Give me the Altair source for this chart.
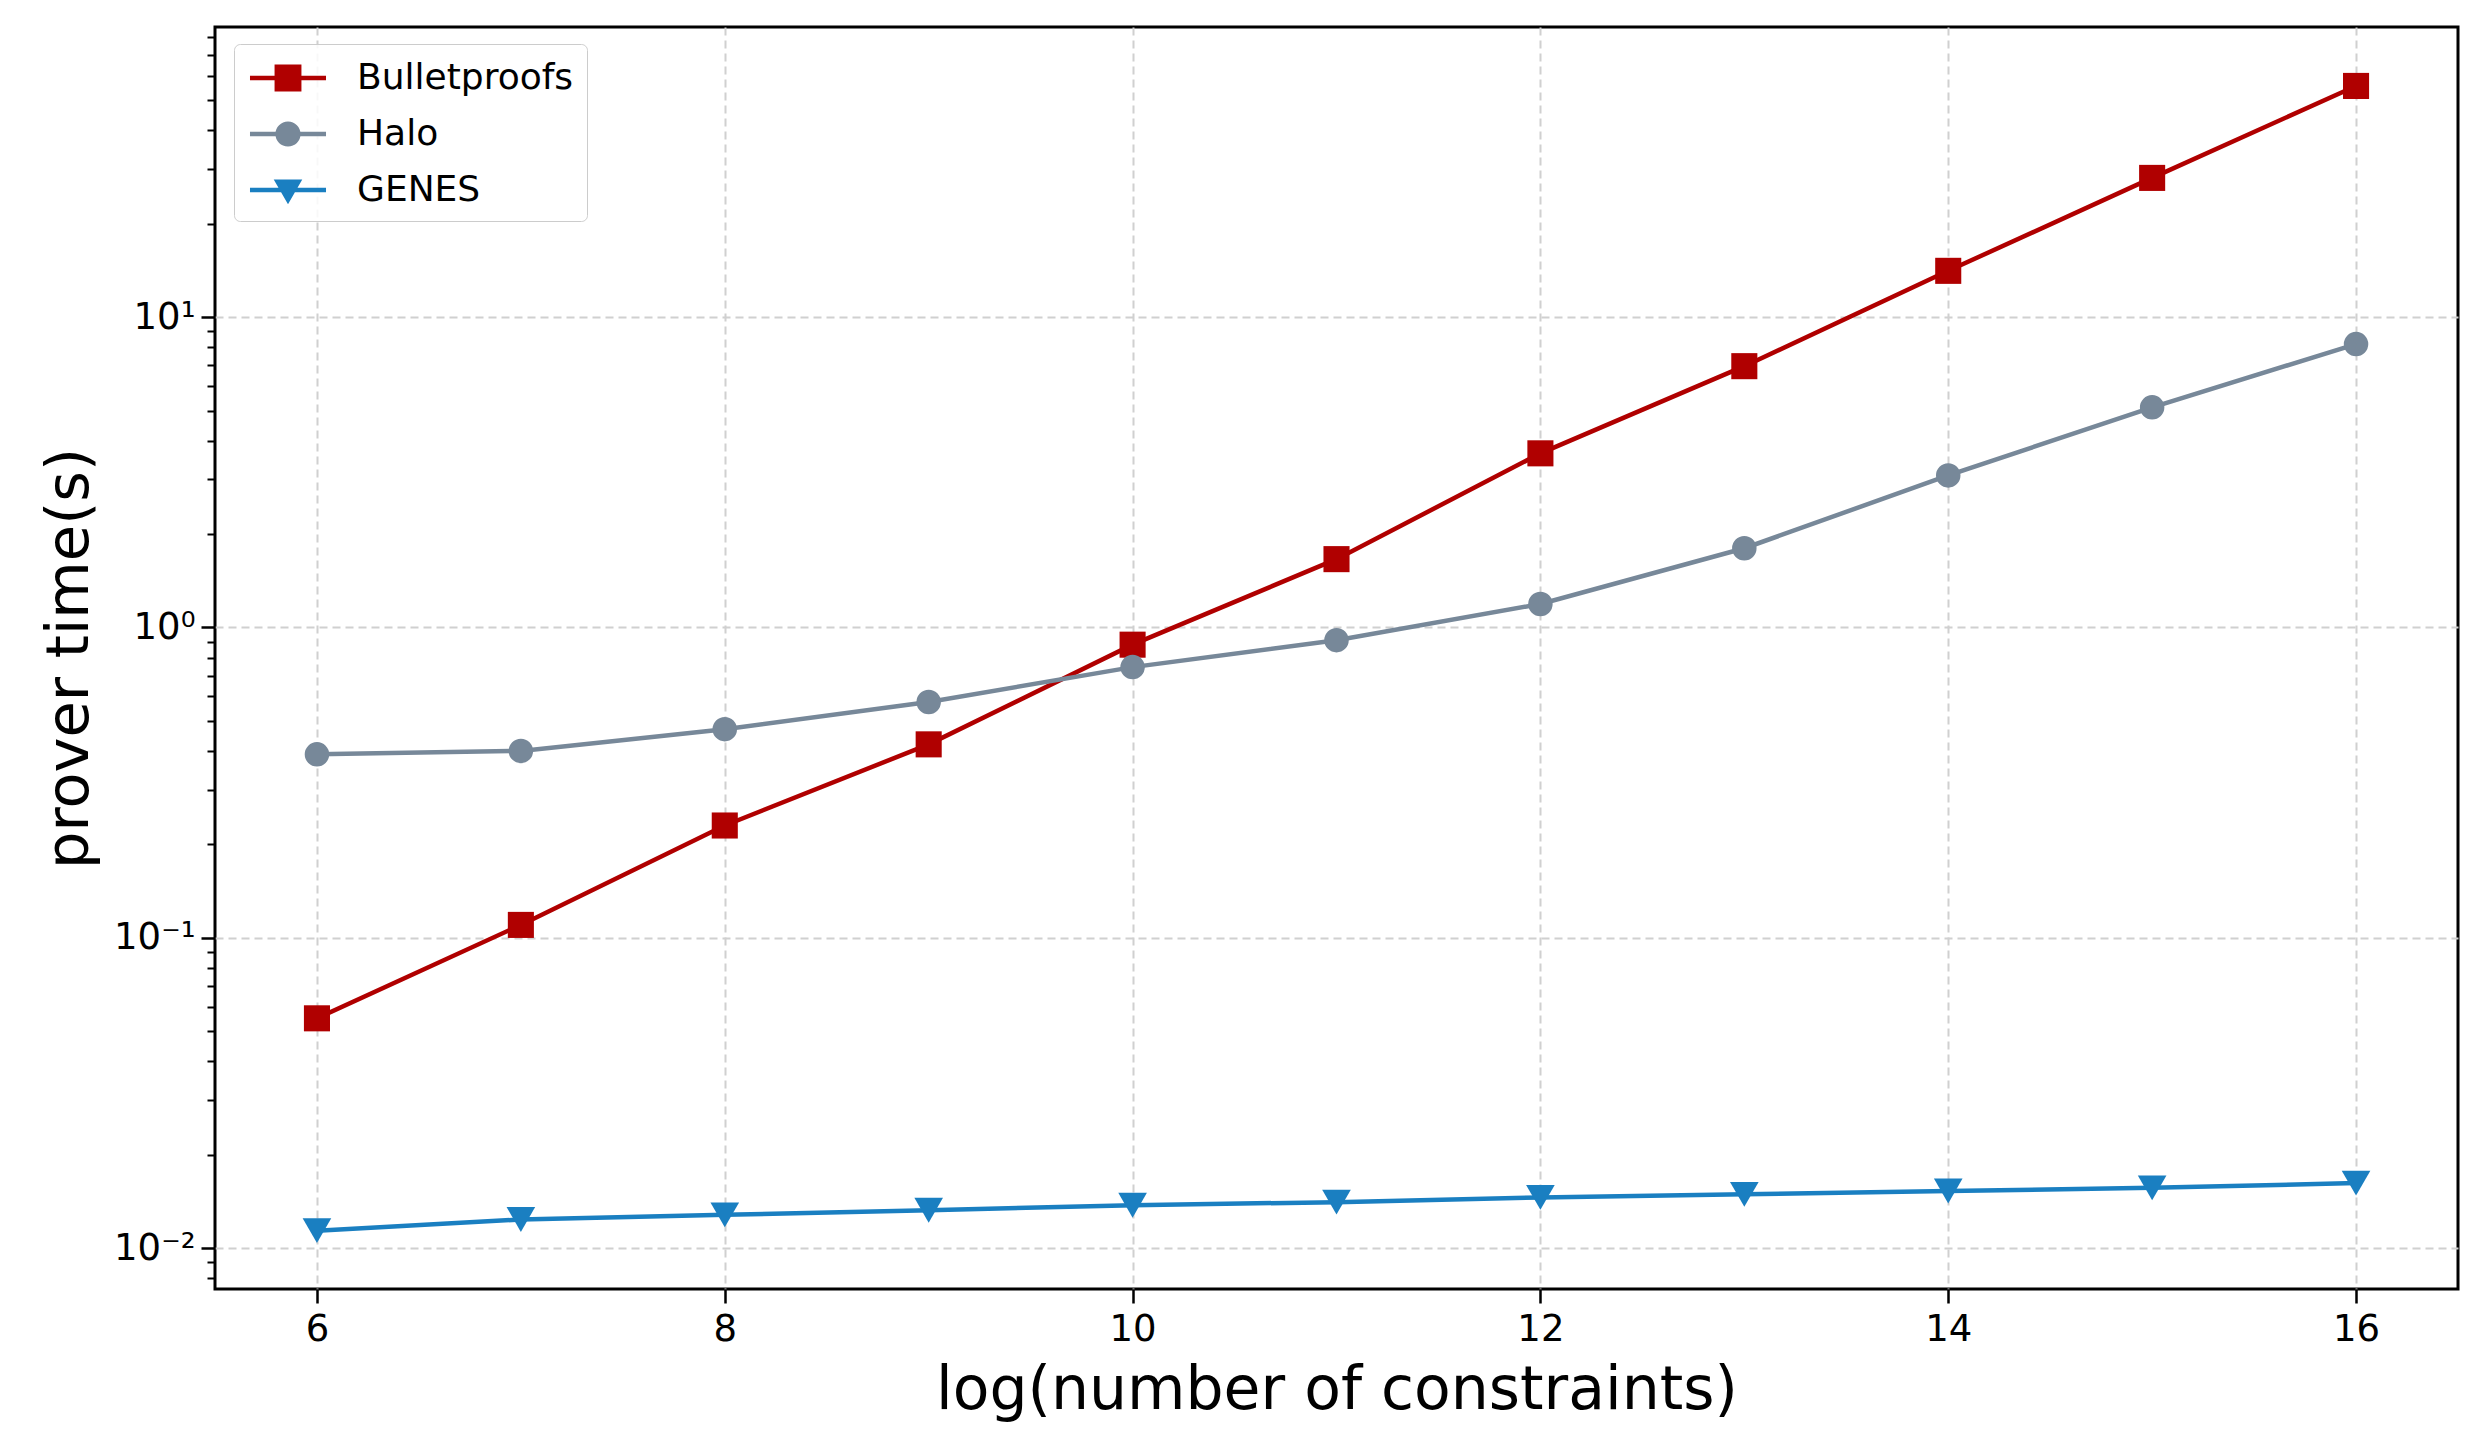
import altair as alt
import pandas as pd

# ---- data ----
x_vals = [6, 7, 8, 9, 10, 11, 12, 13, 14, 15, 16]
series_names = ["Bulletproofs", "Halo", "GENES"]
bulletproofs = [0.055, 0.11, 0.23, 0.42, 0.88, 1.66, 3.64, 6.95, 14.1, 28.1, 55.6]
halo = [0.39, 0.40, 0.47, 0.575, 0.745, 0.91, 1.19, 1.80, 3.09, 5.12, 8.19]
genes = [0.01138, 0.01236, 0.0128, 0.01324, 0.01374, 0.01406, 0.01456, 0.0149, 0.01527, 0.01563, 0.0162]

x_ticks = [6, 8, 10, 12, 14, 16]
y_ticks = [0.008, 0.009,
           0.01, 0.02, 0.03, 0.04, 0.05, 0.06, 0.07, 0.08, 0.09,
           0.1, 0.2, 0.3, 0.4, 0.5, 0.6, 0.7, 0.8, 0.9,
           1, 2, 3, 4, 5, 6, 7, 8, 9,
           10, 20, 30, 40, 50, 60, 70, 80]

colors = ["#b00000", "#778899", "#1a7fc1"]
shapes = ["square", "circle", "triangle-down"]
sizes = [680, 600, 820]

legend_paths = [
    "M-1.81,-0.11H1.81V0.11H-1.81Z M-0.64,-0.64H0.64V0.64H-0.64Z",
    "M-1.81,-0.11H1.81V0.11H-1.81Z M-0.6,0A0.6,0.6 0 1,1 0.6,0A0.6,0.6 0 1,1 -0.6,0Z",
    "M-1.81,-0.11H1.81V0.11H-1.81Z M-0.68,-0.5L0.68,-0.5L0,0.68Z",
]

rows = []
for name, vals in zip(series_names, [bulletproofs, halo, genes]):
    for xv, v in zip(x_vals, vals):
        rows.append({"n": xv, "series": name, "time": v})
df = pd.DataFrame(rows)

FONT = "DejaVu Sans"
is_major = "abs(log(datum.value)/LN10 - round(log(datum.value)/LN10)) < 0.001"
exp = "round(log(datum.value)/LN10)"
label_expr = (
    f"!({is_major}) ? '' : ({exp} == -2 ? '10\u207b\u00b2' : {exp} == -1 ? '10\u207b\u00b9' : "
    f"{exp} == 0 ? '10\u2070' : '10\u00b9')"
)

x_enc = alt.X(
    "n:Q",
    scale=alt.Scale(domain=[5.5, 16.5], nice=False, zero=False),
    axis=alt.Axis(
        values=x_ticks, format="d", title="log(number of constraints)",
        labelFont=FONT, titleFont=FONT, labelFontSize=37, titleFontSize=60,
        labelColor="black", titleColor="black", titleFontWeight="normal",
        tickSize=14, tickWidth=2.5, tickColor="black", domain=False,
        grid=True, gridDash=[8, 5], gridColor="#d0d0d0", gridWidth=2,
        labelPadding=8, titlePadding=14, labelFlush=False,
    ),
)
y_enc = alt.Y(
    "time:Q",
    scale=alt.Scale(type="log", domain=[0.00738, 86.1], nice=False),
    axis=alt.Axis(
        values=y_ticks, labelExpr=label_expr, title="prover time(s)",
        labelFont=FONT, titleFont=FONT, labelFontSize=37, titleFontSize=59,
        labelColor="black", titleColor="black", titleFontWeight="normal",
        tickSize={"condition": {"test": is_major, "value": 14}, "value": 8},
        tickWidth={"condition": {"test": is_major, "value": 2.5}, "value": 2},
        tickColor="black", domain=False,
        grid=True, gridDash=[8, 5], gridColor="#d0d0d0", gridWidth=2,
        gridOpacity={"condition": {"test": is_major, "value": 1}, "value": 0},
        labelPadding=6, titlePadding=14, labelOverlap=False, labelFlush=False,
    ),
)

layers = []
for name, c, s, sz in zip(series_names, colors, shapes, sizes):
    base = alt.Chart(df).transform_filter(alt.datum.series == name)
    layers.append(base.mark_line(color=c, strokeWidth=4.5).encode(x=x_enc, y=y_enc))
    layers.append(
        base.mark_point(shape=s, filled=True, size=sz, color=c, opacity=1).encode(x=x_enc, y=y_enc)
    )

leg = alt.Legend(
    title=None, orient="none", legendX=19, legendY=17,
    labelFont=FONT, labelFontSize=36, labelColor="black", labelLimit=0,
    symbolSize=1764, symbolStrokeWidth=0, symbolOpacity=1,
    padding=13, rowPadding=17, symbolOffset=20, labelOffset=48,
    strokeColor="#cccccc", fillColor="rgba(255,255,255,0.85)", cornerRadius=6,
)
legend_layer = (
    alt.Chart(df)
    .transform_filter("false")
    .mark_point(filled=True, opacity=1, size=1764)
    .encode(
        color=alt.Color("series:N", scale=alt.Scale(domain=series_names, range=colors), legend=leg),
        shape=alt.Shape("series:N", scale=alt.Scale(domain=series_names, range=legend_paths), legend=leg),
    )
)
layers.append(legend_layer)

chart = (
    alt.layer(*layers)
    .properties(
        width=2243, height=1262,
        autosize=alt.AutoSizeParams(type="none"),
        padding={"left": 207, "top": 19, "right": 18, "bottom": 147},
    )
    .configure(font=FONT, background="white", view=alt.ViewConfig(stroke="black", strokeWidth=3))
)

chart.save("out.html", embed_options={"renderer": "svg", "actions": False})
